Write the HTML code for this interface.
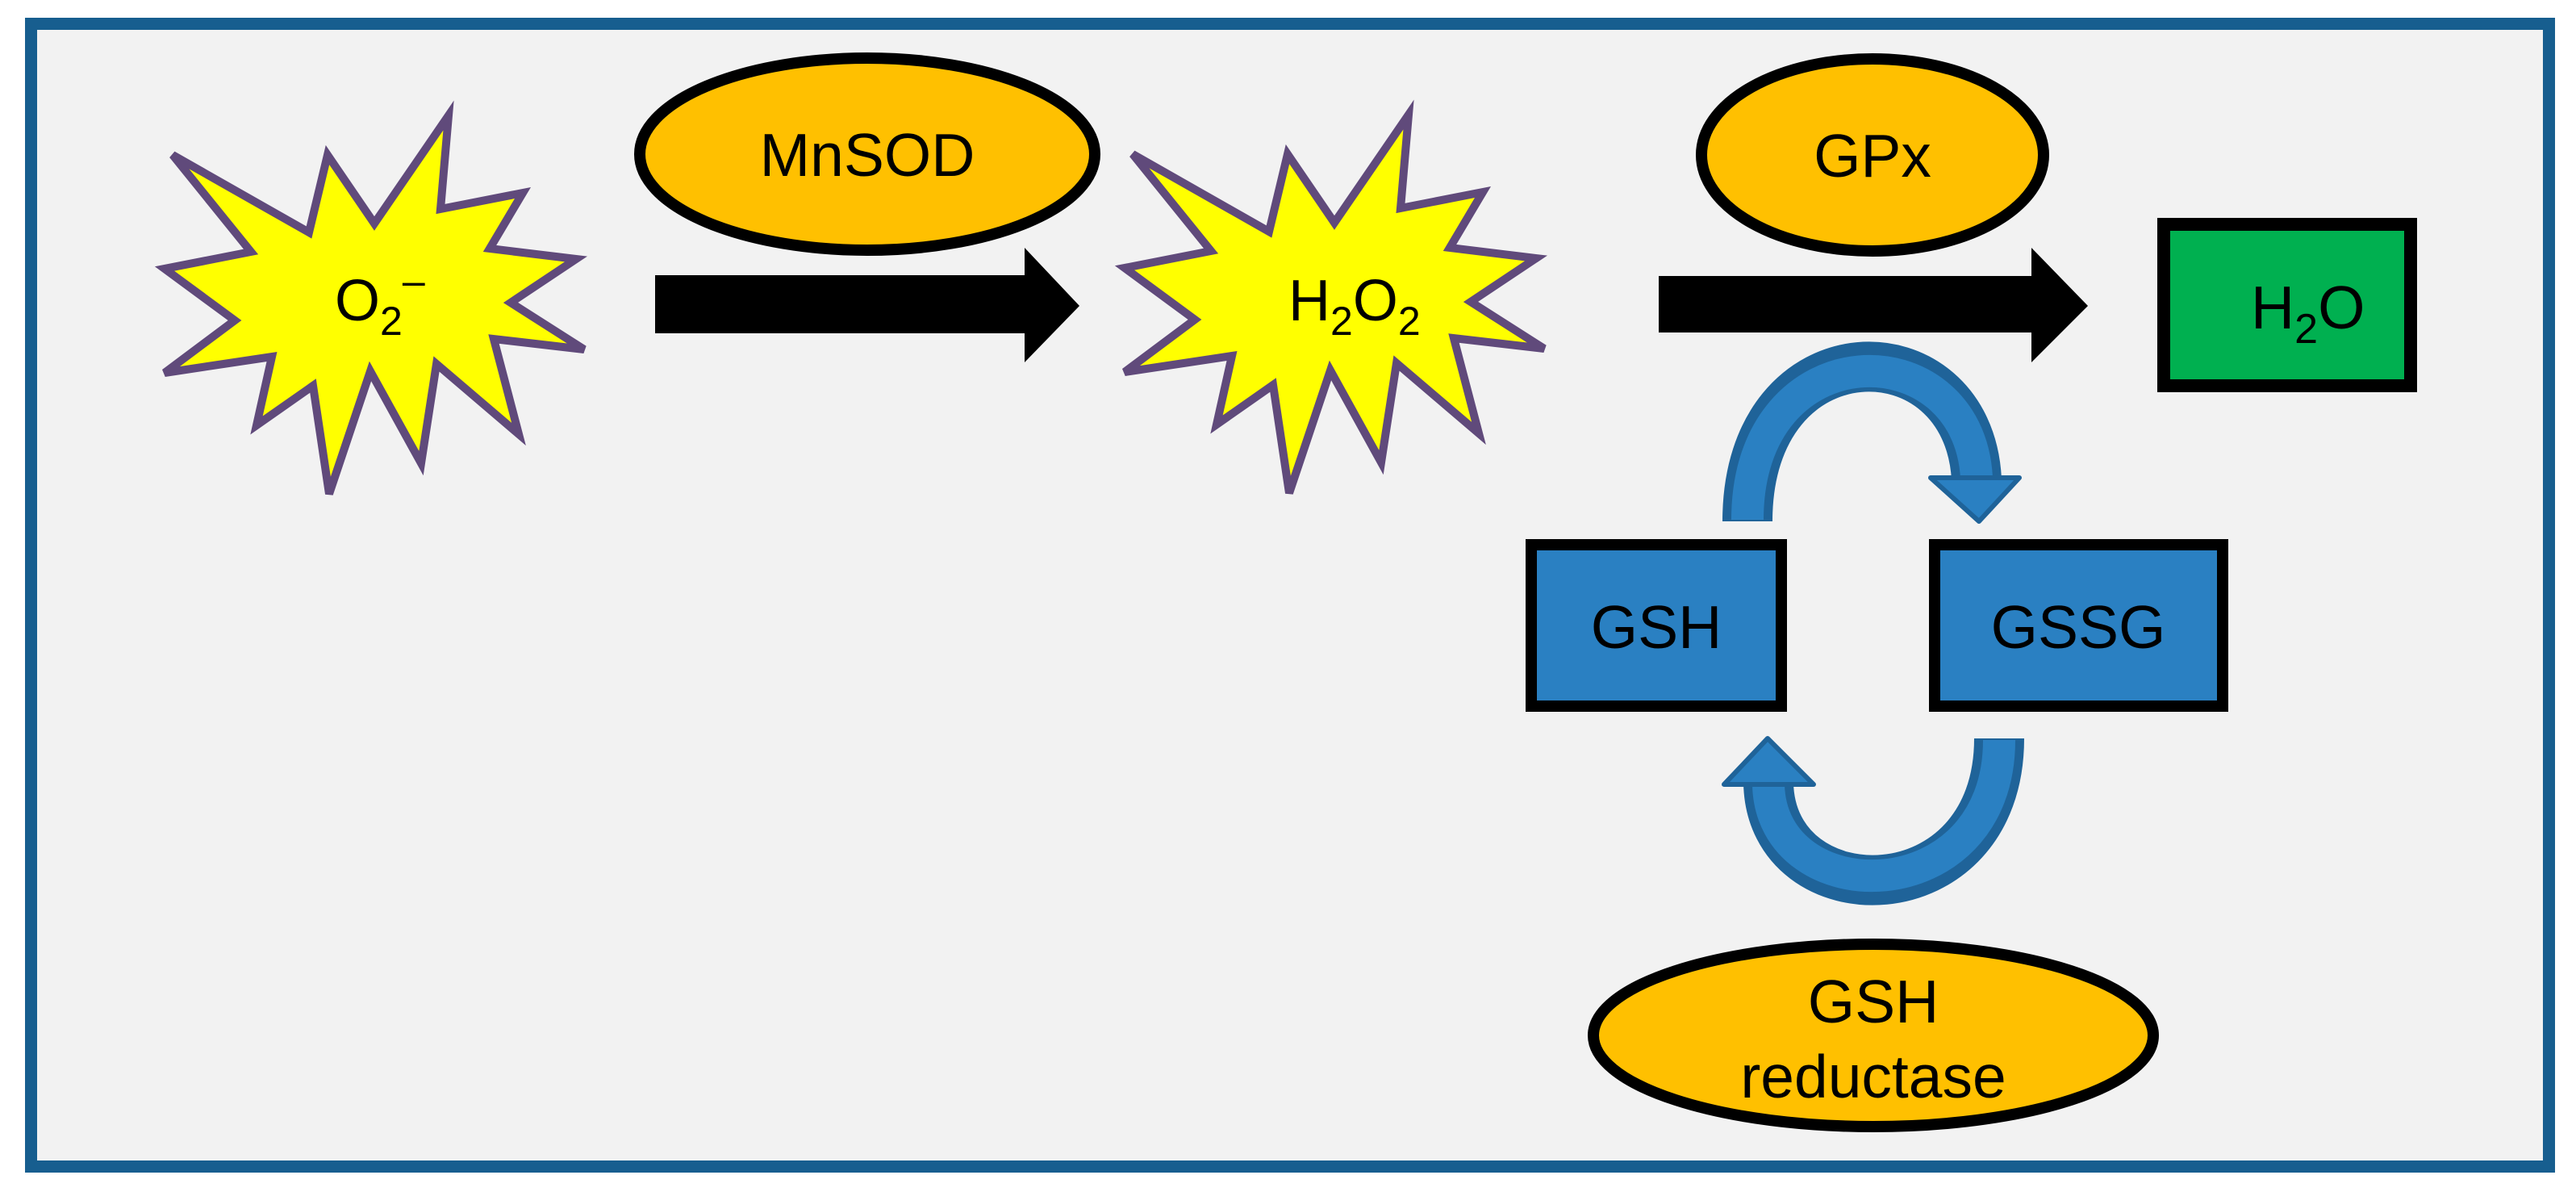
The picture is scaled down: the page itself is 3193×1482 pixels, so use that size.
<!DOCTYPE html>
<html><head><meta charset="utf-8"><style>
html,body{margin:0;padding:0;background:#fff;}
svg{display:block;}
text{font-family:"Liberation Sans",Arial,sans-serif;fill:#000;}
</style></head><body>
<svg width="3193" height="1482" viewBox="0 0 3193 1482" xmlns="http://www.w3.org/2000/svg">
<rect x="0" y="0" width="3193" height="1482" fill="#fff"/>
<rect x="38.5" y="29.5" width="3121" height="1416" fill="#f2f2f2" stroke="#175e8f" stroke-width="15"/>

<polygon points="556,143 546,259 648,239 607,308 714,321 633,375 724,433 612,420 643,538 541,451 522,574 459,460 408,612 388,478 318,527 337,442 204,462 291,397 204,333 311,312 214,192 383,288 406,192 464,277" fill="#ffff00" stroke="#604a7b" stroke-width="10"/>
<polygon transform="translate(1190,-1)" points="556,143 546,259 648,239 607,308 714,321 633,375 724,433 612,420 643,538 541,451 522,574 459,460 408,612 388,478 318,527 337,442 204,462 291,397 204,333 311,312 214,192 383,288 406,192 464,277" fill="#ffff00" stroke="#604a7b" stroke-width="10"/>

<text x="415" y="397" font-size="72">O<tspan font-size="50" dy="18">2</tspan><tspan font-size="50" dy="-50">–</tspan></text>
<text x="1597" y="397" font-size="72">H<tspan font-size="50" dy="18">2</tspan><tspan dy="-18">O</tspan><tspan font-size="50" dy="18">2</tspan></text>

<ellipse cx="1075" cy="191" rx="282" ry="119" fill="#ffc000" stroke="#000" stroke-width="14"/>
<text x="1075" y="218" font-size="75" text-anchor="middle">MnSOD</text>

<polygon points="812,341 1270,341 1270,307 1338,379 1270,449 1270,413 812,413" fill="#000"/>

<ellipse cx="2321" cy="192" rx="212" ry="119" fill="#ffc000" stroke="#000" stroke-width="14"/>
<text x="2321" y="219" font-size="75" text-anchor="middle">GPx</text>

<polygon points="2056,342 2518,342 2518,307 2588,379 2518,449 2518,412 2056,412" fill="#000"/>

<rect x="2682" y="278" width="306" height="200" fill="#00b050" stroke="#000" stroke-width="16"/>
<text x="2790" y="407" font-size="75">H<tspan font-size="52" dy="18">2</tspan><tspan dy="-18">O</tspan></text>

<rect x="1898" y="675" width="310" height="200" fill="#2a80c2" stroke="#000" stroke-width="14"/>
<text x="2053" y="803" font-size="75" text-anchor="middle">GSH</text>
<rect x="2398" y="675" width="357" height="200" fill="#2a80c2" stroke="#000" stroke-width="14"/>
<text x="2576" y="803" font-size="75" text-anchor="middle">GSSG</text>

<path d="M2166 646 C2166 400 2440 400 2450 594" fill="none" stroke="#1f6399" stroke-width="62"/>
<path d="M2166 644 C2166 408 2440 408 2450 592" fill="none" stroke="#2a80c2" stroke-width="40"/>
<polygon points="2393,592 2503,592 2453,646" fill="#2a80c2" stroke="#1f6399" stroke-width="6" stroke-linejoin="round"/>

<path d="M2478 915 C2478 1139 2195 1139 2192 970" fill="none" stroke="#1f6399" stroke-width="62"/>
<path d="M2478 917 C2478 1131 2195 1131 2192 972" fill="none" stroke="#2a80c2" stroke-width="40"/>
<polygon points="2137,972 2248,972 2191,915" fill="#2a80c2" stroke="#1f6399" stroke-width="6" stroke-linejoin="round"/>

<ellipse cx="2322" cy="1283" rx="347" ry="113" fill="#ffc000" stroke="#000" stroke-width="14"/>
<text x="2322" y="1267" font-size="75" text-anchor="middle">GSH</text>
<text x="2322" y="1360" font-size="75" text-anchor="middle">reductase</text>
</svg>
</body></html>
